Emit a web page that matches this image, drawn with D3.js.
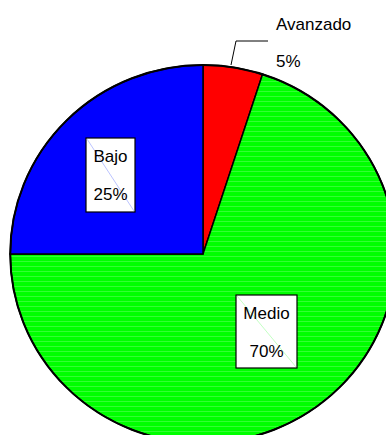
<!DOCTYPE html>
<html>
<head>
<meta charset="utf-8">
<script src="https://cdn.jsdelivr.net/npm/d3@7"></script>
<style>
  html, body { margin: 0; padding: 0; background: #fff; }
  svg { display: block; }
  text { font-family: "Liberation Sans", Arial, sans-serif; fill: #000; }
</style>
</head>
<body>
<script>
// Nivel de desempeño: categorías, porcentajes y colores
const categories = ["Avanzado", "Medio", "Bajo"];
const values = [5, 70, 25];
const colors = ["#ff0000", "#00ff00", "#0000ff"];

const width = 386, height = 435;
const cx = 203, cy = 254, r = 189;

const svg = d3.select("body").append("svg")
  .attr("width", width).attr("height", height);

// fine horizontal streak texture for the green slice
const defs = svg.append("defs");
const pat = defs.append("pattern")
  .attr("id", "streaks").attr("patternUnits", "userSpaceOnUse")
  .attr("width", 40).attr("height", 5);
pat.append("rect").attr("width", 40).attr("height", 5).attr("fill", "#00ff00");
pat.append("rect").attr("y", 2).attr("width", 40).attr("height", 1)
  .attr("fill", "#33ff33");

const pie = d3.pie().sort(null).value(d => d).startAngle(0).endAngle(2 * Math.PI);
const arcs = pie(values);
const arc = d3.arc().innerRadius(0).outerRadius(r);

const g = svg.append("g")
  .attr("transform", `translate(${cx},${cy}) scale(1.02,1)`);

g.selectAll("path.slice")
  .data(arcs)
  .join("path")
  .attr("class", "slice")
  .attr("d", arc)
  .attr("fill", (d, i) => i === 1 ? "url(#streaks)" : colors[i])
  .attr("stroke", "#000")
  .attr("stroke-width", 1.5)
  .attr("vector-effect", "non-scaling-stroke");

// outer rim
g.append("circle").attr("r", r)
  .attr("fill", "none").attr("stroke", "#000").attr("stroke-width", 2)
  .attr("vector-effect", "non-scaling-stroke");

// Avanzado: label outside with leader line
svg.append("polyline")
  .attr("points", "231,65 236,41 268,41")
  .attr("fill", "none").attr("stroke", "#000").attr("stroke-width", 1);
svg.append("text").attr("x", 276).attr("y", 30)
  .attr("font-size", 17).text(categories[0]);
svg.append("text").attr("x", 276).attr("y", 67)
  .attr("font-size", 17).text(values[0] + "%");

// boxed labels inside the slices
const boxes = [
  { i: 2, x: 86, y: 138, w: 49, h: 74, line: "#aab4ff" },
  { i: 1, x: 236, y: 295, w: 61, h: 73, line: "#b4ffb4" }
];
boxes.forEach(b => {
  svg.append("rect").attr("x", b.x).attr("y", b.y)
    .attr("width", b.w).attr("height", b.h)
    .attr("fill", "#fff").attr("stroke", "#000").attr("stroke-width", 1.2);
  svg.append("line").attr("x1", b.x + 1).attr("y1", b.y + 1)
    .attr("x2", b.x + b.w - 1).attr("y2", b.y + b.h - 1)
    .attr("stroke", b.line).attr("stroke-width", 0.8);
  svg.append("text").attr("x", b.x + b.w / 2).attr("y", b.y + 24)
    .attr("text-anchor", "middle").attr("font-size", 17).text(categories[b.i]);
  svg.append("text").attr("x", b.x + b.w / 2).attr("y", b.y + 62)
    .attr("text-anchor", "middle").attr("font-size", 17).text(values[b.i] + "%");
});
</script>
</body>
</html>
